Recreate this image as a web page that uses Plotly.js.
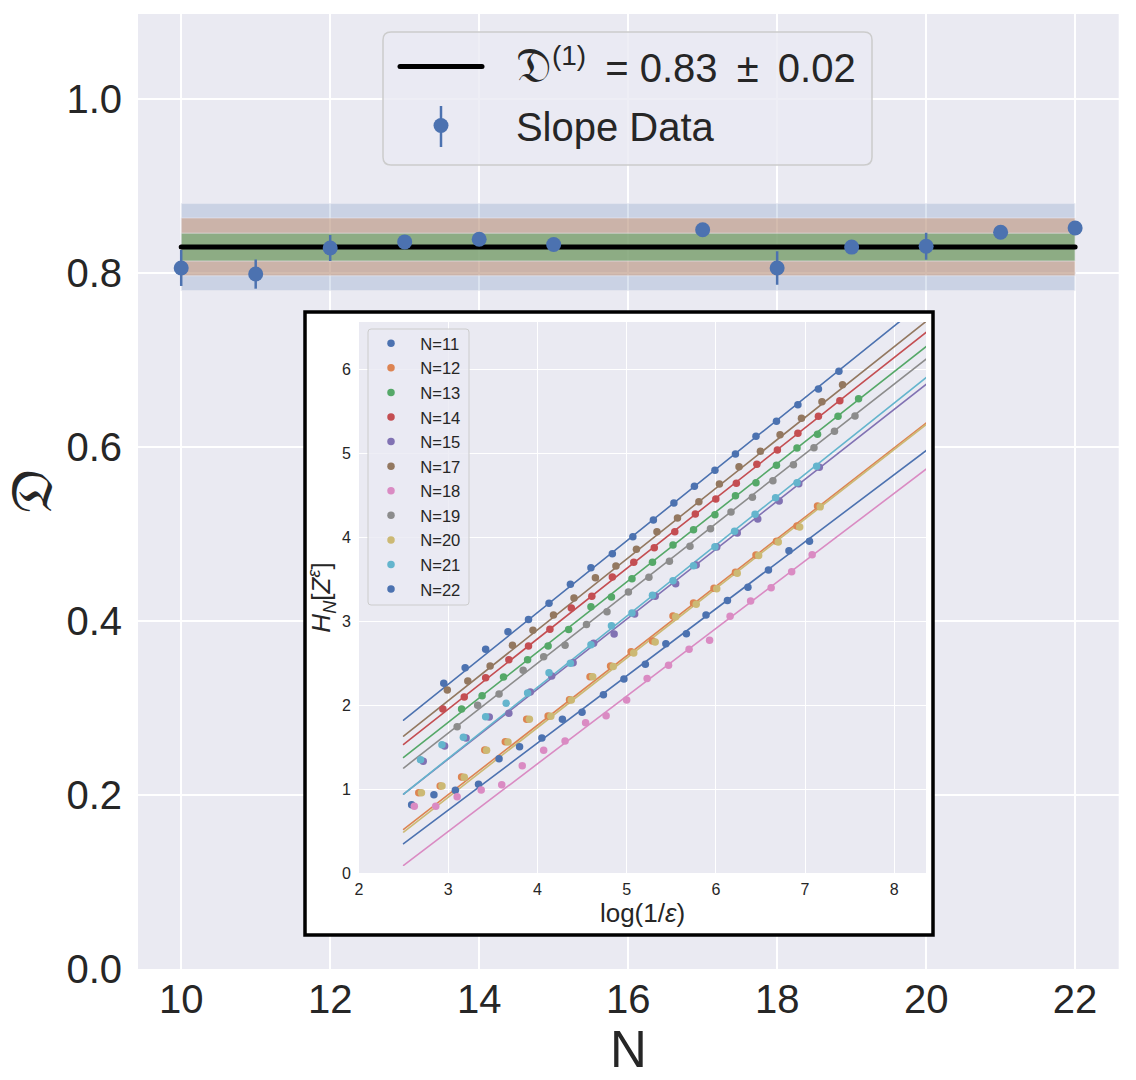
<!DOCTYPE html>
<html>
<head>
<meta charset="utf-8">
<script src="https://cdn.plot.ly/plotly-3.0.1.min.js"></script>
<style>html,body{margin:0;padding:0;background:#fff}#chart{width:1136px;height:1080px}.js-line{stroke-linecap:round}</style>
</head>
<body>
<div id="chart"></div>
<script>
// ---- main panel data
const slopeN      = [10, 11, 12, 13, 14, 15, 17, 18, 19, 20, 21, 22];
const slopeValue  = [0.806, 0.799, 0.829, 0.836, 0.839, 0.833, 0.850, 0.806, 0.830, 0.831, 0.847, 0.852];
const slopeError  = [0.0207, 0.0168, 0.015, 0.003, 0.003, 0.003, 0.003, 0.0193, 0.002, 0.0155, 0.003, 0.003];
const fitValue    = 0.83;
const fitX        = [10, 22];
const band1 = [0.814, 0.846];
const band2 = [0.797, 0.8635];
const band3 = [0.78, 0.88];

// ---- inset data
const seriesNames  = ['N=11','N=12','N=13','N=14','N=15','N=17','N=18','N=19','N=20','N=21','N=22'];
const seriesColors = ['#4c72b0','#dd8452','#55a868','#c44e52','#8172b3','#937860','#da8bc3','#8c8c8c','#ccb974','#64b5cd','#4c72b0'];
const fitLineX     = [2.5, 8.36];
const fitStart     = [0.349, 0.52, 1.376, 1.53, 0.94, 1.63, 0.092, 1.25, 0.488, 0.94, 1.82];
const fitEnd       = [5.03, 5.36, 6.27, 6.44, 5.82, 6.57, 4.81, 6.12, 5.34, 5.90, 6.82];

const x11 = [2.59,2.84,3.08,3.34,3.57,3.80,4.05,4.28,4.50,4.74,4.97,5.21,5.44,5.67,5.89,6.13,6.36,6.59,6.82,7.05];
const y11 = [0.813,0.932,0.985,1.056,1.361,1.504,1.607,1.83,1.913,2.123,2.31,2.485,2.73,2.849,3.071,3.244,3.401,3.607,3.837,3.949];
const x12 = [2.67,2.91,3.15,3.41,3.64,3.88,4.12,4.36,4.59,4.82,5.05,5.29,5.52,5.75,5.98,6.22,6.45,6.68,6.91,7.14];
const y12 = [0.956,1.036,1.143,1.464,1.563,1.83,1.869,2.063,2.337,2.464,2.633,2.762,3.06,3.214,3.389,3.58,3.786,3.949,4.131,4.369];
const x13 = [3.15,3.38,3.62,3.89,4.12,4.35,4.60,4.83,5.06,5.29,5.52,5.75,5.99,6.22,6.45,6.68,6.91,7.14,7.37,7.60];
const y13 = [1.952,2.111,2.333,2.539,2.702,2.899,3.17,3.286,3.504,3.699,3.905,4.087,4.265,4.492,4.646,4.854,5.06,5.223,5.437,5.646];
const x14 = [2.94,3.18,3.42,3.68,3.90,4.14,4.38,4.61,4.84,5.08,5.31,5.54,5.77,6.00,6.23,6.46,6.69,6.92,7.15,7.39];
const y14 = [1.952,2.095,2.325,2.539,2.702,2.902,3.155,3.294,3.524,3.699,3.873,4.063,4.274,4.452,4.639,4.865,5.036,5.235,5.437,5.623];
const x15 = [2.72,2.96,3.20,3.46,3.68,3.92,4.16,4.40,4.63,4.86,5.09,5.32,5.55,5.78,6.01,6.24,6.47,6.71,6.93,7.16];
const y15 = [1.33,1.512,1.607,1.857,1.901,2.155,2.345,2.504,2.735,2.845,3.083,3.294,3.444,3.667,3.881,4.048,4.214,4.429,4.635,4.83];
const x17 = [2.99,3.22,3.47,3.72,3.95,4.18,4.41,4.65,4.88,5.11,5.34,5.57,5.81,6.04,6.26,6.50,6.72,6.96,7.19,7.42];
const y17 = [2.179,2.286,2.464,2.711,2.89,3.071,3.274,3.515,3.655,3.854,4.063,4.226,4.42,4.631,4.837,5.02,5.218,5.413,5.61,5.813];
const x18 = [2.62,2.86,3.10,3.37,3.60,3.83,4.07,4.31,4.54,4.77,5.00,5.23,5.47,5.70,5.93,6.16,6.39,6.62,6.85,7.08];
const y18 = [0.794,0.794,0.908,0.988,1.051,1.277,1.461,1.571,1.789,1.873,2.06,2.315,2.473,2.663,2.77,3.057,3.238,3.396,3.587,3.789];
const x19 = [3.10,3.33,3.57,3.84,4.07,4.31,4.55,4.78,5.02,5.25,5.48,5.71,5.94,6.17,6.41,6.64,6.87,7.10,7.33,7.56];
const y19 = [1.742,1.996,2.131,2.413,2.575,2.711,2.958,3.111,3.345,3.52,3.711,3.889,4.099,4.298,4.473,4.67,4.861,5.063,5.258,5.44];
const x20 = [2.70,2.93,3.18,3.43,3.67,3.91,4.15,4.38,4.62,4.85,5.08,5.32,5.55,5.78,6.01,6.24,6.48,6.70,6.94,7.17];
const y20 = [0.955,1.035,1.14,1.46,1.56,1.83,1.865,2.06,2.335,2.46,2.62,2.75,3.05,3.20,3.385,3.57,3.78,3.94,4.12,4.36];
const x21 = [2.69,2.93,3.17,3.42,3.65,3.89,4.13,4.37,4.60,4.83,5.06,5.29,5.52,5.75,5.99,6.21,6.44,6.67,6.91,7.13];
const y21 = [1.349,1.527,1.615,1.861,2.02,2.143,2.385,2.496,2.718,2.943,3.095,3.306,3.48,3.658,3.885,4.068,4.27,4.468,4.646,4.842];
const x22 = [2.95,3.19,3.42,3.67,3.90,4.13,4.37,4.60,4.84,5.07,5.30,5.53,5.76,5.99,6.22,6.45,6.68,6.92,7.15,7.38];
const y22 = [2.258,2.444,2.663,2.873,3.018,3.211,3.437,3.635,3.801,4.004,4.202,4.405,4.604,4.794,4.988,5.199,5.377,5.575,5.762,5.973];
const seriesX = [x11,x12,x13,x14,x15,x17,x18,x19,x20,x21,x22];
const seriesY = [y11,y12,y13,y14,y15,y17,y18,y19,y20,y21,y22];

const xTicksMain = [10,12,14,16,18,20,22];
const yTicksMain = [0,0.2,0.4,0.6,0.8,1.0];
const yTickTextMain = ['0.0','0.2','0.4','0.6','0.8','1.0'];
const xTicksInset = [2,3,4,5,6,7,8];
const yTicksInset = [0,1,2,3,4,5,6];

// ---- page geometry helpers (pixels to paper fractions)
const W = 1136, H = 1080;
const px = v => v / W, py = v => 1 - v / H;
const FONT = '"Liberation Sans", Arial, sans-serif';
const INK = '#262626', BG = '#eaeaf2';
const FRAKTUR = '"DejaVu Math TeX Gyre", "DejaVu Sans", "DejaVu Serif", serif';

function roundRect(x0, y0, x1, y1, r) {
  const P = (x, y) => px(x) + ',' + py(y);
  return 'M' + P(x0 + r, y0) + ' L' + P(x1 - r, y0) + ' Q' + P(x1, y0) + ' ' + P(x1, y0 + r) +
         ' L' + P(x1, y1 - r) + ' Q' + P(x1, y1) + ' ' + P(x1 - r, y1) +
         ' L' + P(x0 + r, y1) + ' Q' + P(x0, y1) + ' ' + P(x0, y1 - r) +
         ' L' + P(x0, y0 + r) + ' Q' + P(x0, y0) + ' ' + P(x0 + r, y0) + ' Z';
}

function bandTrace(band, fill) {
  return {
    x: [fitX[0], fitX[1], fitX[1], fitX[0], fitX[0]],
    y: [band[0], band[0], band[1], band[1], band[0]],
    mode: 'lines', fill: 'toself', fillcolor: fill,
    line: {width: 1, color: 'rgba(234,234,242,0.6)'},
    showlegend: false, hoverinfo: 'skip', xaxis: 'x', yaxis: 'y'
  };
}

const traces = [
  bandTrace(band3, 'rgba(76,114,176,0.2)'),
  bandTrace(band2, 'rgba(204,148,109,0.5)'),
  bandTrace(band1, 'rgba(100,166,109,0.6)'),
  {
    x: fitX, y: [fitValue, fitValue], mode: 'lines',
    line: {color: '#000', width: 5},
    name: '\u00a0\u00a0\u200a\u200a<span style="font-size:48px">𝔇</span><sup>(1)</sup> \u2009= 0.83\u2009 ±\u2009 0.02',
    legendgroup: 'fit', xaxis: 'x', yaxis: 'y'
  },
  {
    x: slopeN, y: slopeValue, mode: 'markers',
    marker: {color: '#4c72b0', size: 15},
    error_y: {type: 'data', array: slopeError, width: 0, thickness: 2.5, color: '#4c72b0'},
    name: '\u00a0\u00a0\u200a\u200aSlope Data',
    legendgroup: 'data', xaxis: 'x', yaxis: 'y'
  },
  // keeps the white inset panel subplot alive
  {x: [0], y: [0], mode: 'markers', marker: {opacity: 0, size: 1}, showlegend: false, hoverinfo: 'skip', xaxis: 'x2', yaxis: 'y2'}
];

seriesNames.forEach((name, i) => {
  traces.push({
    x: fitLineX, y: [fitStart[i], fitEnd[i]], mode: 'lines',
    line: {color: seriesColors[i], width: 1.6},
    showlegend: false, hoverinfo: 'skip', xaxis: 'x3', yaxis: 'y3'
  });
});
seriesNames.forEach((name, i) => {
  traces.push({
    x: seriesX[i], y: seriesY[i], mode: 'markers',
    marker: {color: seriesColors[i], size: 7.5},
    name: '\u00a0\u00a0' + name, legend: 'legend2', legendgroup: name,
    xaxis: 'x3', yaxis: 'y3'
  });
});

const layout = {
  width: W, height: H,
  margin: {l: 0, r: 0, t: 0, b: 0},
  paper_bgcolor: '#ffffff', plot_bgcolor: BG,
  font: {family: FONT, color: INK},
  showlegend: true,
  xaxis: {
    domain: [px(138), px(1118.7)], range: [9.42, 22.585], anchor: 'y',
    tickmode: 'array', tickvals: xTicksMain,
    tickfont: {size: 40, color: INK}, ticklen: 0, ticklabelstandoff: 3,
    showgrid: true, gridcolor: '#fff', gridwidth: 2, zeroline: false, showline: false,
    title: {text: 'N', font: {size: 51, color: INK}, standoff: 0}
  },
  yaxis: {
    domain: [py(969), py(14)], range: [0, 1.098], anchor: 'x',
    tickmode: 'array', tickvals: yTicksMain, ticktext: yTickTextMain,
    tickfont: {size: 40, color: INK}, ticklen: 0, ticklabelstandoff: 15,
    showgrid: true, gridcolor: '#fff', gridwidth: 2, zeroline: false, showline: false,
    title: {text: '𝔇', font: {size: 48, color: INK, family: FRAKTUR}, standoff: 0}
  },
  xaxis2: {domain: [px(305), px(933)], range: [0, 1], anchor: 'y2', visible: false, fixedrange: true},
  yaxis2: {domain: [py(935), py(312)], range: [0, 1], anchor: 'x2', visible: false, fixedrange: true},
  xaxis3: {
    domain: [px(359), px(926)], range: [2, 8.356], anchor: 'y3',
    tickmode: 'array', tickvals: xTicksInset,
    tickfont: {size: 16, color: INK}, ticklen: 0, ticklabelstandoff: 5,
    showgrid: true, gridcolor: '#fff', gridwidth: 1.2, zeroline: false, showline: false,
    title: {text: 'log(1/<i>ε</i>)', font: {size: 26, color: INK}, standoff: 0}
  },
  yaxis3: {
    domain: [py(873), py(322)], range: [0, 6.56], anchor: 'x3',
    tickmode: 'array', tickvals: yTicksInset,
    tickfont: {size: 16, color: INK}, ticklen: 0, ticklabelstandoff: 7,
    showgrid: true, gridcolor: '#fff', gridwidth: 1.2, zeroline: false, showline: false,
    title: {text: '<i>H<sub>N</sub></i>[<i>Z<sup>ε</sup></i>]', font: {size: 26, color: INK}, standoff: 3}
  },
  legend: {
    x: px(395), y: py(34), xanchor: 'left', yanchor: 'top',
    bgcolor: 'rgba(0,0,0,0)', borderwidth: 0,
    font: {size: 40, color: INK, family: FONT}, itemwidth: 82, tracegroupgap: 4, itemclick: false
  },
  legend2: {
    x: px(371), y: py(326), xanchor: 'left', yanchor: 'top',
    bgcolor: 'rgba(0,0,0,0)', borderwidth: 0,
    font: {size: 16.6, color: INK, family: FONT}, itemwidth: 30, tracegroupgap: 0, itemclick: false
  },
  shapes: [
    // white inset panel, lives in the panel subplot so it covers the main plot
    {type: 'rect', xref: 'x2', yref: 'y2', x0: 0, x1: 1, y0: 0, y1: 1, layer: 'below', fillcolor: '#fff', line: {width: 0}},
    // inset black frame
    {type: 'rect', xref: 'paper', yref: 'paper', x0: px(305), x1: px(933), y0: py(935), y1: py(312), layer: 'above', fillcolor: 'rgba(0,0,0,0)', line: {color: '#000', width: 3.5}},
    // main legend box + error tick of the legend key
    {type: 'path', xref: 'paper', yref: 'paper', path: roundRect(383, 32, 872, 165, 8), layer: 'above', fillcolor: 'rgba(234,234,242,0.8)', line: {color: '#cccccc', width: 1.5}},
    {type: 'line', xref: 'paper', yref: 'paper', x0: px(441), x1: px(441), y0: py(106), y1: py(147), layer: 'above', line: {color: '#4c72b0', width: 2.5}},
    // inset legend box
    {type: 'path', xref: 'paper', yref: 'paper', path: roundRect(368, 329, 469, 605, 3), layer: 'above', fillcolor: 'rgba(234,234,242,0.8)', line: {color: '#cccccc', width: 1}}
  ]
};

Plotly.newPlot('chart', traces, layout, {displayModeBar: false, responsive: false});
</script>
</body>
</html>
